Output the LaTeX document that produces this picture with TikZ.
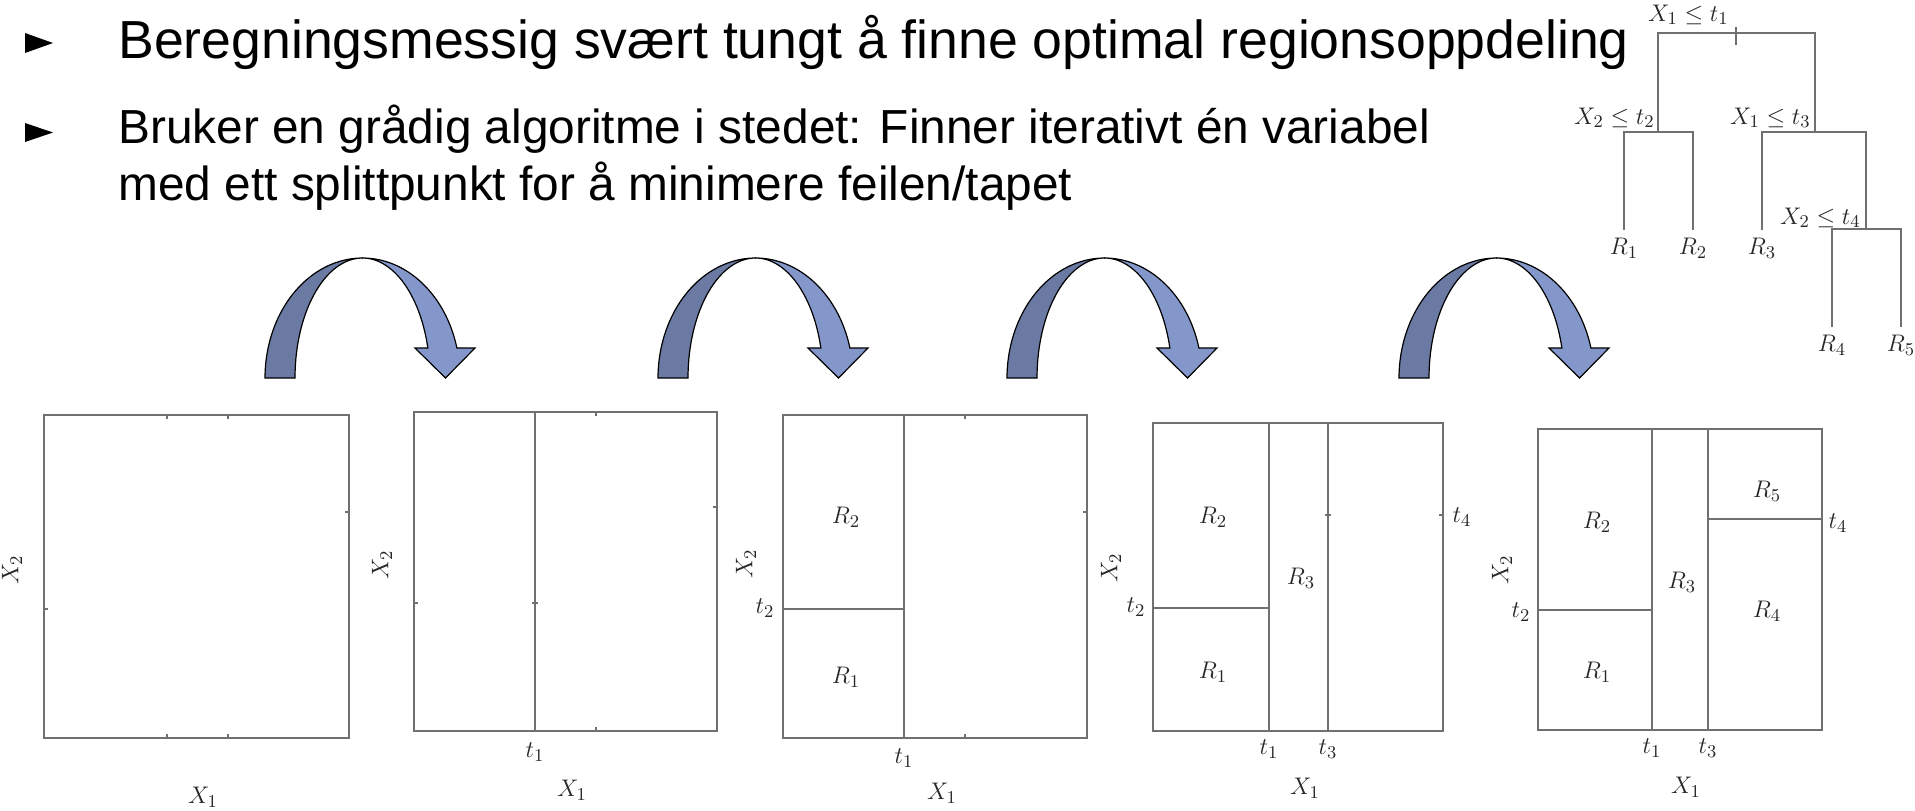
\documentclass[tikz,border=0pt]{standalone}
\usepackage{fontspec}
\newfontfamily\slidefont{Liberation Sans}
\usetikzlibrary{positioning}
\definecolor{rulegray}{HTML}{707070}
\definecolor{bandback}{HTML}{6A7AA3}
\definecolor{bandfront}{HTML}{8497CB}

\begin{document}
\begin{tikzpicture}[
    x=0.5pt, y=-0.5pt,
    slide/.style={font=\slidefont\fontsize{26.8}{30}\selectfont,inner sep=0pt,anchor=base west},
    subslide/.style={font=\slidefont\fontsize{23.9}{28}\selectfont,inner sep=0pt,anchor=base west},
    lab/.style={font=\fontsize{12.5}{15}\selectfont,text=black!85,inner sep=1pt},
    panel/.style={draw=rulegray,line width=1pt},
    split/.style={draw=rulegray,line width=0.9pt},
    tickmark/.style={draw=rulegray,line width=0.7pt},
    treeline/.style={draw=rulegray,line width=0.8pt},
    archback/.style={fill=bandback,draw=black,line width=0.6pt},
    archfront/.style={fill=bandfront,draw=black,line width=0.6pt},
]
    \useasboundingbox (0,0) rectangle (1915,810);

    % bullets and text
    \fill (25,33) -- (53,43) -- (25,53) -- cycle;
    \fill (25,123) -- (53,132.5) -- (25,142) -- cycle;
    \node[slide] (line1) at (118,58) {Beregningsmessig svært tungt å finne optimal regionsoppdeling};
    \node[subslide] (line2) at (118,143) {Bruker en grådig algoritme i stedet: Finner iterativt én variabel};
    \node[subslide] (line3) at (118,200) {med ett splittpunkt for å minimere feilen/tapet};

    % tree
    \coordinate (s1) at (1736,33);
    \coordinate (s2) at (1658,132);
    \coordinate (s3) at (1815,132);
    \coordinate (s4) at (1866,229);
    \coordinate (r1) at (1624,230);
    \coordinate (r2) at (1693,230);
    \coordinate (r3) at (1762,230);
    \coordinate (r4) at (1832,327);
    \coordinate (r5) at (1901,327);
    \draw[treeline] (s2) -- (s2 |- s1) -- (s3 |- s1) -- (s3);
    \draw[treeline] (r1) -- (r1 |- s2) -- (r2 |- s2) -- (r2);
    \draw[treeline] (r3) -- (r3 |- s3) -- (s4 |- s3) -- (s4);
    \draw[treeline] (r4) -- (r4 |- s4) -- (r5 |- s4) -- (r5);
    \draw[treeline] (1736,27) -- (1736,45);
    \node[lab,anchor=base east] (c1) at (1731,21) {$X_1 \le t_1$};
    \node[lab,anchor=base east] (c2) at (1657,124) {$X_2 \le t_2$};
    \node[lab,anchor=base east] (c3) at (1813,124) {$X_1 \le t_3$};
    \node[lab,anchor=base east] (c4) at (1863,224) {$X_2 \le t_4$};
    \node[lab,below=3pt of r1] (lr1) {$R_1$};
    \node[lab,below=3pt of r2] (lr2) {$R_2$};
    \node[lab,below=3pt of r3] (lr3) {$R_3$};
    \node[lab,below=3pt of r4] (lr4) {$R_4$};
    \node[lab,below=3pt of r5] (lr5) {$R_5$};

    % arrows between the panels
    \foreach \xl in {265,658,1007,1399} {
        \pgfmathsetmacro{\cx}{\xl+97.5}
        \filldraw[archback]
            plot[domain=180:270,samples=40,variable=\t] ({\cx+97.5*cos(\t)},{378+120*sin(\t)})
            -- plot[domain=270:180,samples=40,variable=\t] ({\cx+67.5*cos(\t)},{378+120*sin(\t)})
            -- cycle;
        \filldraw[archfront]
            plot[domain=270:345.5,samples=40,variable=\t] ({\cx+97.5*cos(\t)},{378+120*sin(\t)})
            -- (\cx+112.5,348) -- (\cx+83,378) -- (\cx+52.5,348)
            -- plot[domain=345.5:270,samples=40,variable=\t] ({\cx+67.5*cos(\t)},{378+120*sin(\t)})
            -- cycle;
    }

    % panel 1
    \draw[panel] (44,415) rectangle (349,738);
    \draw[tickmark] (167,415) -- (167,419) (228,415) -- (228,419)
        (167,738) -- (167,734) (228,738) -- (228,734)
        (44,609) -- (48,609) (349,512) -- (345,512);
    \node[lab,rotate=90] (p1y) at (12,570) {$X_2$};
    \node[lab] (p1x) at (203,797) {$X_1$};

    % panel 2
    \draw[panel] (414,412) rectangle (717,731);
    \draw[split] (535,412) -- (535,731);
    \draw[tickmark] (596,412) -- (596,416) (596,731) -- (596,727)
        (414,603) -- (418,603) (717,507) -- (713,507) (532,603) -- (538,603);
    \node[lab,rotate=90] (p2y) at (382,565) {$X_2$};
    \node[lab] (p2t1) at (535,752) {$t_1$};
    \node[lab] (p2x) at (572,790) {$X_1$};

    % panel 3
    \draw[panel] (783,415) rectangle (1087,738);
    \draw[split] (904,415) -- (904,738);
    \draw[split] (783,609) -- (904,609);
    \draw[tickmark] (965,415) -- (965,419) (965,738) -- (965,734) (1087,512) -- (1083,512);
    \node[lab] (p3r2) at (846,517) {$R_2$};
    \node[lab] (p3r1) at (846,677) {$R_1$};
    \node[lab,rotate=90] (p3y) at (746,564) {$X_2$};
    \node[lab] (p3t2) at (765,608) {$t_2$};
    \node[lab] (p3t1) at (904,758) {$t_1$};
    \node[lab] (p3x) at (942,793) {$X_1$};

    % panel 4
    \draw[panel] (1153,423) rectangle (1443,731);
    \draw[split] (1269,423) -- (1269,731);
    \draw[split] (1328,423) -- (1328,731);
    \draw[split] (1153,608) -- (1269,608);
    \draw[tickmark] (1325,515) -- (1331,515) (1443,515) -- (1439,515);
    \node[lab] (p4r2) at (1213,517) {$R_2$};
    \node[lab] (p4r1) at (1213,672) {$R_1$};
    \node[lab] (p4r3) at (1301,578) {$R_3$};
    \node[lab,rotate=90] (p4y) at (1111,568) {$X_2$};
    \node[lab] (p4t2) at (1136,607) {$t_2$};
    \node[lab] (p4t4) at (1462,517) {$t_4$};
    \node[lab] (p4t1) at (1269,749) {$t_1$};
    \node[lab] (p4t3) at (1328,749) {$t_3$};
    \node[lab] (p4x) at (1305,788) {$X_1$};

    % panel 5
    \draw[panel] (1538,429) rectangle (1822,730);
    \draw[split] (1652,429) -- (1652,730);
    \draw[split] (1708,429) -- (1708,730);
    \draw[split] (1538,610) -- (1652,610);
    \draw[split] (1708,519) -- (1822,519);
    \node[lab] (p5r2) at (1597,522) {$R_2$};
    \node[lab] (p5r1) at (1597,672) {$R_1$};
    \node[lab] (p5r3) at (1682,582) {$R_3$};
    \node[lab] (p5r5) at (1767,491) {$R_5$};
    \node[lab] (p5r4) at (1767,611) {$R_4$};
    \node[lab,rotate=90] (p5y) at (1502,570) {$X_2$};
    \node[lab] (p5t2) at (1521,612) {$t_2$};
    \node[lab] (p5t4) at (1838,523) {$t_4$};
    \node[lab] (p5t1) at (1652,748) {$t_1$};
    \node[lab] (p5t3) at (1708,748) {$t_3$};
    \node[lab] (p5x) at (1686,787) {$X_1$};
\end{tikzpicture}
\end{document}
